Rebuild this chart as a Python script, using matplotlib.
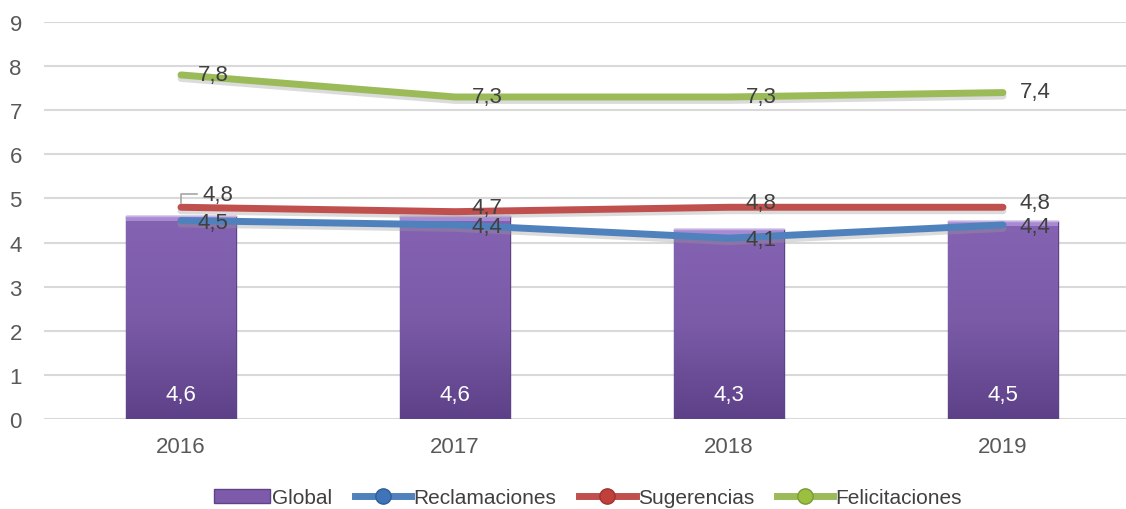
import matplotlib
import matplotlib.pyplot as plt
import matplotlib.patheffects as pe
from matplotlib.lines import Line2D
from matplotlib.patches import Patch
import numpy as np

matplotlib.rcParams['font.family'] = ['Liberation Sans', 'DejaVu Sans']

years = ['2016', '2017', '2018', '2019']
global_vals = [4.6, 4.6, 4.3, 4.5]
reclamaciones = [4.5, 4.4, 4.1, 4.4]
sugerencias = [4.8, 4.7, 4.8, 4.8]
felicitaciones = [7.8, 7.3, 7.3, 7.4]

purple = '#7E5BAA'
blue = '#4F81BD'
red = '#C0504D'
green = '#9BBB59'
txt = '#404040'

fig = plt.figure(figsize=(11.26, 5.10), dpi=100)
ax = fig.add_axes([44 / 1126, 90 / 510, 1082 / 1126, 397 / 510])

x = np.arange(len(years))

ax.set_yticks(range(10))
ax.grid(axis='y', color='#D9D9D9', linewidth=1.5)
ax.set_axisbelow(True)
for s in ax.spines.values():
    s.set_visible(False)
ax.tick_params(axis='both', length=0, labelsize=16, colors='#595959')
ax.tick_params(axis='y', pad=16)
ax.tick_params(axis='x', pad=12)
ax.set_xticks(x)
ax.set_xticklabels(years)

# bars with vertical gradient
bars = ax.bar(x, global_vals, width=0.4, color=purple, edgecolor='#5E4485',
              linewidth=1.0, zorder=2)
grad = np.linspace(0, 1, 256).reshape(-1, 1)
cmap = matplotlib.colors.LinearSegmentedColormap.from_list(
    'g', ['#5D4188', '#7B5BA8', '#8563B3'])
for b in bars:
    x0, y0 = b.get_x(), b.get_y()
    w, h = b.get_width(), b.get_height()
    im = ax.imshow(grad, extent=[x0, x0 + w, y0, y0 + h], origin='lower',
                   cmap=cmap, aspect='auto', zorder=2.1)
    im.set_clip_path(b)
    ax.fill_between([x0, x0 + w], [y0 + h - 0.12] * 2, [y0 + h] * 2,
                    color='#A88AD4', zorder=2.2, linewidth=0)
    ax.plot([x0, x0 + w], [y0 + h] * 2, color='#C7B3E6', lw=1, zorder=2.3)
ax.set_xlim(-0.5, 3.449)
ax.set_ylim(0, 9.0)
for lbl in ax.get_yticklabels():
    lbl.set_clip_on(False)

for xi, v in zip(x, global_vals):
    ax.text(xi, 0.55, f'{v}'.replace('.', ','), ha='center', va='center',
            color='white', fontsize=16, zorder=5)

shadow = [pe.SimpleLineShadow(offset=(0, -2.5), shadow_color='#9A9A9A', alpha=0.35),
          pe.Normal()]
for vals, col in [(reclamaciones, blue), (sugerencias, red), (felicitaciones, green)]:
    ax.plot(x, vals, color=col, lw=5, solid_capstyle='round', zorder=3,
            path_effects=shadow)


def lab(xi, v, dx=0.06, dy=0.0):
    ax.text(xi + dx, v + dy, f'{v}'.replace('.', ','), ha='left', va='center',
            color=txt, fontsize=16, zorder=6)


for i, v in enumerate(felicitaciones):
    lab(x[i], v, dy=0.02)
for i, v in enumerate(reclamaciones):
    lab(x[i], v, dy=-0.04)
for i, v in enumerate(sugerencias):
    if i == 0:
        ax.text(x[i] + 0.08, v + 0.3, '4,8', ha='left', va='center',
                color=txt, fontsize=16, zorder=6)
        ax.plot([x[i], x[i], x[i] + 0.06], [v + 0.1, v + 0.3, v + 0.3],
                color='#A6A6A6', lw=1.2, zorder=6)
    else:
        lab(x[i], v, dy=0.1)

handles = [
    Patch(facecolor=purple, edgecolor='#5E4485', label='Global'),
    Line2D([], [], color=blue, lw=5, marker='o', markersize=11,
           markerfacecolor='#3F74B8', markeredgecolor='#2E5E99', label='Reclamaciones'),
    Line2D([], [], color=red, lw=5, marker='o', markersize=11,
           markerfacecolor='#C0403C', markeredgecolor='#9E3330', label='Sugerencias'),
    Line2D([], [], color=green, lw=5, marker='o', markersize=11,
           markerfacecolor='#9BC040', markeredgecolor='#7A9A38', label='Felicitaciones'),
]
leg = fig.legend(handles=handles, loc='center', bbox_to_anchor=(0.522, 0.022),
                 ncol=4, frameon=False, fontsize=15, handlelength=2.7,
                 handletextpad=0.1, columnspacing=1.1, labelcolor=txt)

fig.savefig('out.png', dpi=100)
